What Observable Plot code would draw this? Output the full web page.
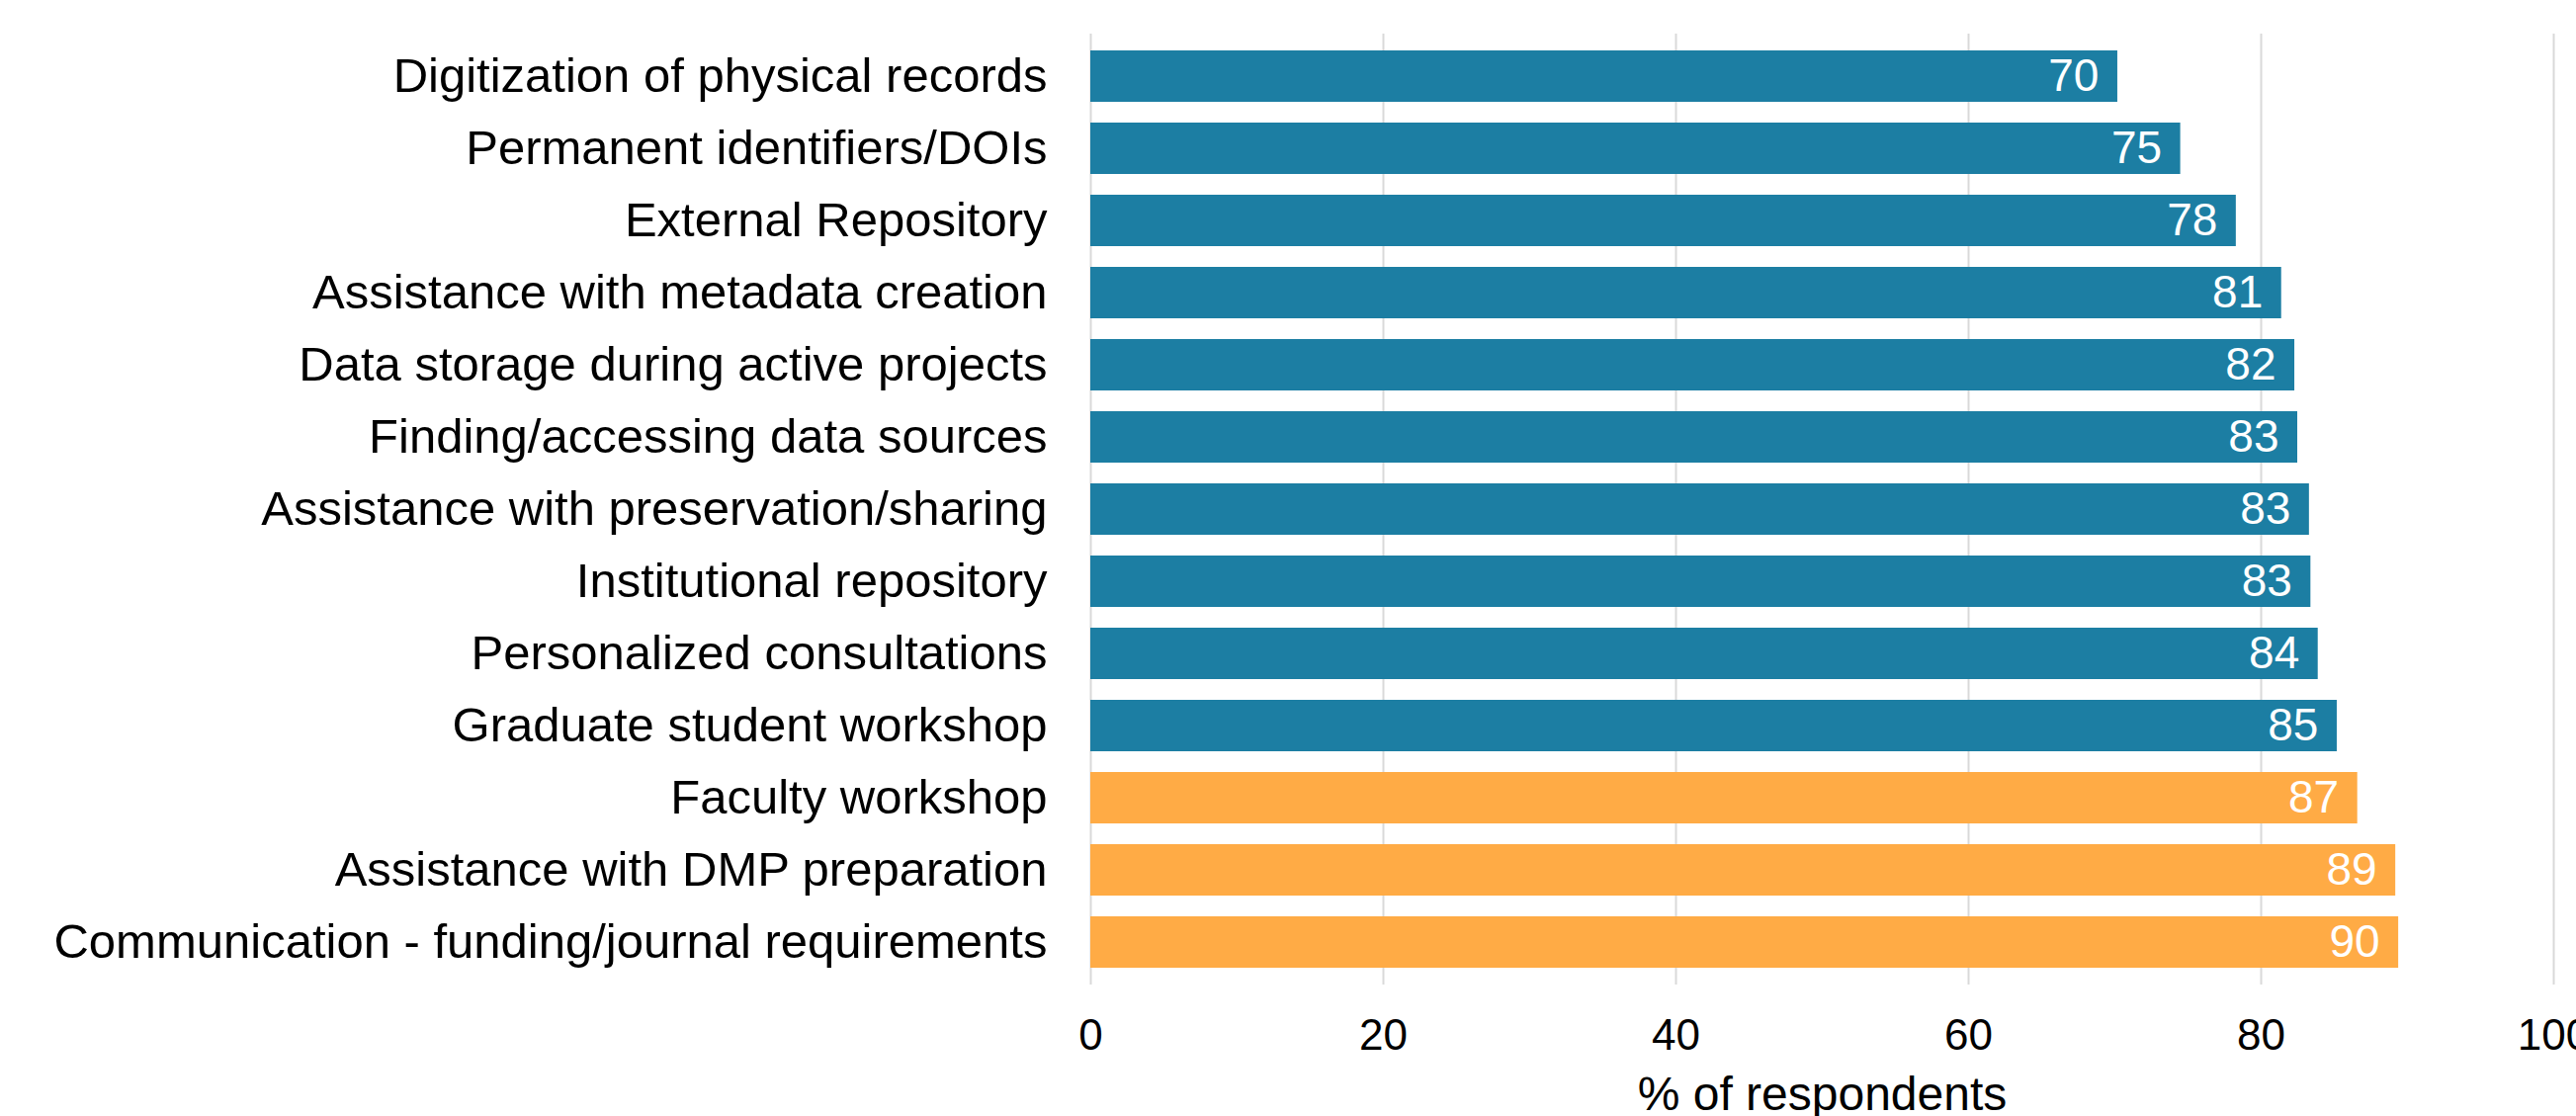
<!DOCTYPE html>
<html>
<head>
<meta charset="utf-8">
<script src="https://cdn.jsdelivr.net/npm/d3@7"></script>
<script src="https://cdn.jsdelivr.net/npm/@observablehq/plot@0.6"></script>
<style>
  html, body { margin: 0; padding: 0; background: #fff; }
  #chart svg { display: block; }
</style>
</head>
<body>
<div id="chart"></div>
<script>
const categories = [
  "Digitization of physical records",
  "Permanent identifiers/DOIs",
  "External Repository",
  "Assistance with metadata creation",
  "Data storage during active projects",
  "Finding/accessing data sources",
  "Assistance with preservation/sharing",
  "Institutional repository",
  "Personalized consultations",
  "Graduate student workshop",
  "Faculty workshop",
  "Assistance with DMP preparation",
  "Communication - funding/journal requirements"
];
const values = [70.2, 74.5, 78.3, 81.4, 82.3, 82.5, 83.3, 83.4, 83.9, 85.2, 86.6, 89.2, 89.4];
const valueLabels = ["70", "75", "78", "81", "82", "83", "83", "83", "84", "85", "87", "89", "90"];
const groups = ["other", "other", "other", "other", "other", "other", "other", "other", "other", "other", "top", "top", "top"];
const xTicks = [0, 20, 40, 60, 80, 100];
const xLabel = "% of respondents";

const data = categories.map((c, i) => ({category: c, value: values[i], label: valueLabels[i], group: groups[i]}));

const chart = Plot.plot({
  width: 2606,
  height: 1129,
  marginLeft: 1103,
  marginRight: 23,
  marginTop: 34,
  marginBottom: 133,
  style: {fontFamily: "'Liberation Sans', Arial, sans-serif", color: "#000", background: "#fff"},
  x: {domain: [0, 100]},
  y: {domain: categories, paddingInner: 0.283, paddingOuter: 0.16},
  color: {domain: ["other", "top"], range: ["#1c7ea3", "#ffab45"]},
  marks: [
    Plot.gridX(xTicks, {stroke: "#d9d9d9", strokeOpacity: 1, strokeWidth: 2}),
    Plot.barX(data, {x: "value", y: "category", fill: "group"}),
    Plot.text(data, {x: "value", y: "category", text: "label", textAnchor: "end", dx: -19, fill: "#fff", fontSize: 46}),
    Plot.axisY({tickSize: 0, tickPadding: 44, fontSize: 49, label: null}),
    Plot.axisX(xTicks, {tickSize: 0, tickPadding: 34, fontSize: 44, label: null, tickFormat: d => String(d)}),
    Plot.text([xLabel], {frameAnchor: "bottom", dy: 126, fontSize: 48, fill: "#000"})
  ]
});
document.getElementById("chart").appendChild(chart);
</script>
</body>
</html>
